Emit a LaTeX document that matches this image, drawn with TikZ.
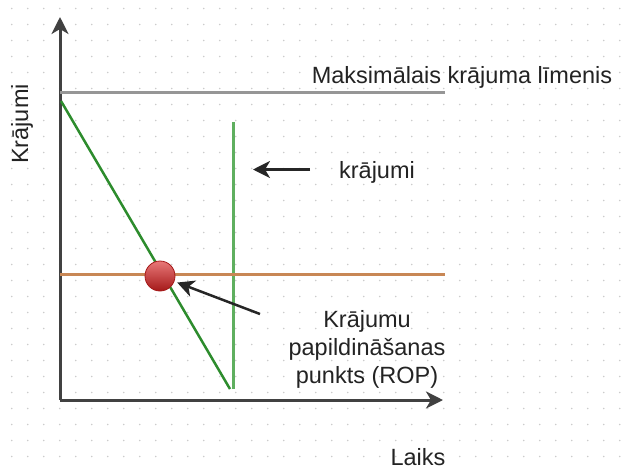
\documentclass[tikz,border=0pt]{standalone}
\usepackage{fontspec}
\setmainfont{Liberation Sans}
\usetikzlibrary{arrows.meta}
\definecolor{axisgray}{RGB}{65,65,65}
\definecolor{maxgray}{RGB}{150,150,150}
\definecolor{dropgreen}{RGB}{45,140,45}
\definecolor{fillgreen}{RGB}{95,175,95}
\definecolor{ropline}{RGB}{200,135,85}
\definecolor{balltop}{RGB}{232,120,120}
\definecolor{ballbottom}{RGB}{165,25,25}
\definecolor{txt}{RGB}{35,35,35}
\begin{document}
\begin{tikzpicture}[x=1pt, y=-1pt, line join=round, text=txt,
	>={Stealth[length=17pt, width=17pt, inset=5pt]},
	font=\fontsize{23.5}{28}\selectfont,
	axis/.style={->, line width=3pt, axisgray},
	pointer/.style={->, line width=2.5pt, black!85}]
	\useasboundingbox (0,0) rectangle (621,469);
	% dotted background
	\foreach \i in {0,...,38}
	\foreach \j in {0,...,28}
	\fill[black!20] ({11.7+16*\i},{8.5+16*\j}) circle (0.9);
	% axes
	\coordinate (O) at (60,400);
	\coordinate (ytop) at (60,17);
	\coordinate (xend) at (443,400);
	\draw[axis] (O) -- (ytop);
	\draw[axis] (O) -- (xend);
	\node[rotate=90] (ylab) at (22,124) {Krājumi};
	\node[anchor=base] (xlab) at (418,465) {Laiks};
	% maximum level
	\coordinate (maxa) at (60,92.5);
	\coordinate (maxb) at (445,92.5);
	\draw[line width=3pt, maxgray] (maxa) -- (maxb);
	\node[anchor=base] (maxlab) at (462,83) {Maksimālais krājuma līmenis};
	% stock curves
	\coordinate (da) at (61,101);
	\coordinate (db) at (230,389);
	\draw[line width=2.5pt, dropgreen] (da) -- (db);
	\coordinate (va) at (233,122);
	\coordinate (vb) at (233,389);
	\draw[line width=3pt, fillgreen] (va) -- (vb);
	% reorder point
	\coordinate (ra) at (60,274.5);
	\coordinate (rb) at (445,274.5);
	\draw[line width=2.5pt, ropline] (ra) -- (rb);
	\node[circle, minimum size=30pt, inner sep=0pt, draw=ballbottom, line width=0.8pt,
		top color=balltop, bottom color=ballbottom] (rop) at (160,276) {};
	% labels with pointers
	\node[anchor=base] (stocklab) at (377,178) {krājumi};
	\coordinate (sa) at (310,169.5);
	\coordinate (sb) at (253,169.5);
	\draw[pointer] (sa) -- (sb);
	\node[align=center] (roplab) at (367,349) {Krājumu\\papildināšanas\\punkts (ROP)};
	\coordinate (pa) at (260,314);
	\draw[pointer, shorten >=3pt] (pa) -- (rop);
\end{tikzpicture}
\end{document}
